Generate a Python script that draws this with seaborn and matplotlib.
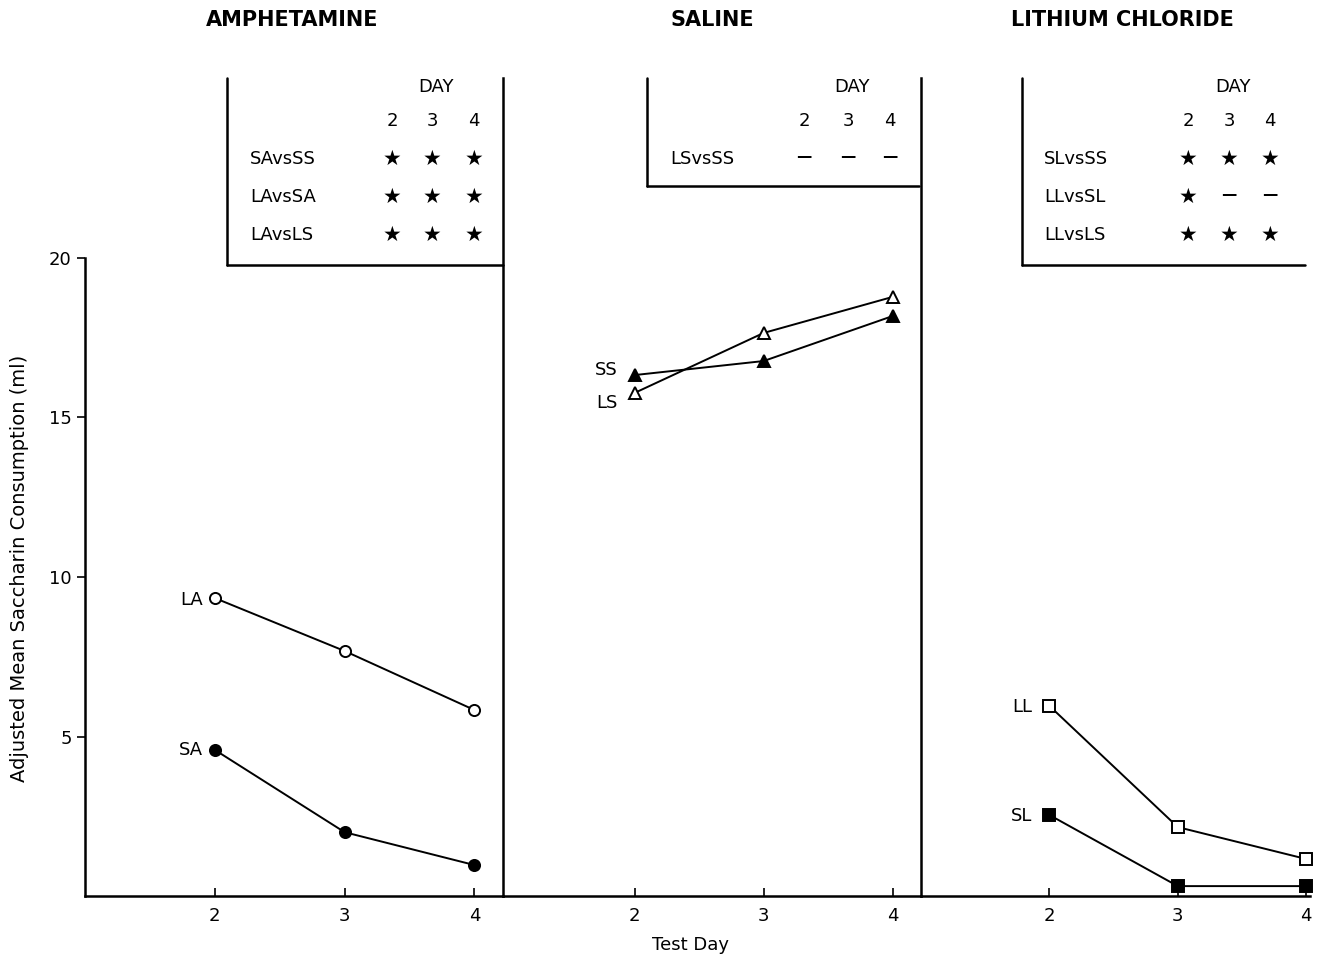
import matplotlib
matplotlib.use("Agg")
import matplotlib.pyplot as plt
import seaborn as sns
import pandas as pd

# ---------------- data ----------------
days = [2, 3, 4]
panels = ["AMPHETAMINE", "SALINE", "LITHIUM CHLORIDE"]

LA = [9.34, 7.68, 5.83]
SA = [4.58, 2.00, 0.97]
SS = [16.33, 16.77, 18.18]
LS = [15.77, 17.65, 18.78]
LL = [5.96, 2.16, 1.16]
SL = [2.54, 0.31, 0.31]

series_names = [["LA", "SA"], ["SS", "LS"], ["LL", "SL"]]
series_vals = {"LA": LA, "SA": SA, "SS": SS, "LS": LS, "LL": LL, "SL": SL}
series_marker = {"LA": "o", "SA": "o", "SS": "^", "LS": "^", "LL": "s", "SL": "s"}
series_filled = {"LA": False, "SA": True, "SS": True, "LS": False, "LL": False, "SL": True}

yticks = [5, 10, 15, 20]
ylabel = "Adjusted Mean Saccharin Consumption (ml)"
xlabel = "Test Day"

# significance tables
table_rows = [
    ["SAvsSS", "LAvsSA", "LAvsLS"],
    ["LSvsSS"],
    ["SLvsSS", "LLvsSL", "LLvsLS"],
]
table_marks = [
    [["★", "★", "★"], ["★", "★", "★"], ["★", "★", "★"]],
    [["—", "—", "—"]],
    [["★", "★", "★"], ["★", "—", "—"], ["★", "★", "★"]],
]

rows = []
for p, names in enumerate(series_names):
    for n in names:
        for d, v in zip(days, series_vals[n]):
            rows.append({"panel": p, "group": n, "day": d, "value": v})
df = pd.DataFrame(rows)

# ---------------- layout ----------------
sns.set_theme(style="white")
plt.rcParams["font.family"] = ["DejaVu Sans"]
plt.rcParams["text.color"] = "black"
plt.rcParams["axes.labelcolor"] = "black"
plt.rcParams["xtick.color"] = "black"
plt.rcParams["ytick.color"] = "black"

W, H = 1318, 959
fig = plt.figure(figsize=(W / 100, H / 100), dpi=100)
gs = fig.add_gridspec(1, 3, left=85 / W, right=1310 / W, bottom=1 - 896 / H, top=1 - 78 / H,
                      wspace=0, width_ratios=[418, 418, 389])
axes = [fig.add_subplot(gs[0, i]) for i in range(3)]
xlims = [(1.0, 4.22), (0.98, 4.22), (1.0, 4.03)]
YMAX = (896 - 78) / 31.9

def fx(x):
    return x / W

def fy(y):
    return 1 - y / H

for p, ax in enumerate(axes):
    ax.patch.set_visible(False)
    sub = df[df.panel == p]
    for n in series_names[p]:
        d = sub[sub.group == n]
        sns.lineplot(data=d, x="day", y="value", ax=ax, color="black", lw=1.4,
                     marker=series_marker[n], markersize=8 if series_marker[n] != "^" else 9,
                     markerfacecolor="black" if series_filled[n] else "white",
                     markeredgecolor="black", markeredgewidth=1.4, zorder=3, clip_on=False)
    ax.set_xlim(*xlims[p])
    ax.set_ylim(0, YMAX)
    ax.set_xticks(days)
    ax.set_xticklabels([str(d) for d in days], fontsize=13)
    ax.set_xlabel("")
    ax.set_ylabel("")
    ax.tick_params(axis="x", direction="in", length=6, width=1.2, color="black", pad=8, bottom=True)
    for s in ax.spines.values():
        s.set_color("black")
        s.set_linewidth(1.8)
    ax.spines["top"].set_visible(False)
    if p == 0:
        ax.set_yticks(yticks)
        ax.set_yticklabels([str(t) for t in yticks], fontsize=13)
        ax.tick_params(axis="y", direction="out", length=6, width=1.2, color="black", left=True)
        ax.spines["left"].set_bounds(0, 20)
    else:
        ax.spines["left"].set_visible(False)
        ax.set_yticks([])
    if p == 2:
        ax.spines["right"].set_visible(False)

# series labels
label_pos = {"LA": (203, 600), "SA": (203, 750), "SS": (618, 370), "LS": (618, 403),
             "LL": (1032, 707), "SL": (1032, 816)}
for n, (x, y) in label_pos.items():
    fig.text(fx(x), fy(y), n, ha="right", va="center", fontsize=13)

# panel titles
for t, x in zip(panels, [292, 712, 1122]):
    fig.text(fx(x), fy(20), t, ha="center", va="center", fontsize=15, fontweight="bold")

# tables
box = [(0.340, 0.771, 1.0), (0.344, 0.868, 0.995), (0.26, 0.771, 0.987)]
for ax, (x0, y0, x1) in zip(axes, box):
    ax.plot([x0, x0], [y0, 1.0], color="black", lw=1.8, transform=ax.transAxes, clip_on=False)
    ax.plot([x0, x1], [y0, y0], color="black", lw=1.8, transform=ax.transAxes, clip_on=False)

col_x = [[392, 432, 474], [804, 848, 890], [1188, 1229, 1270]]
row_left = [250, 670, 1044]
for p in range(3):
    cx = col_x[p]
    fig.text(fx(cx[1] + 4), fy(87), "DAY", ha="center", va="center", fontsize=13)
    for x, d in zip(cx, days):
        fig.text(fx(x), fy(121), str(d), ha="center", va="center", fontsize=13)
    for r, (lab, marks) in enumerate(zip(table_rows[p], table_marks[p])):
        y = 159 + 38 * r
        fig.text(fx(row_left[p]), fy(y), lab, ha="left", va="center", fontsize=13)
        for x, m in zip(cx, marks):
            fig.text(fx(x), fy(y - (2 if m != "★" else 0)), m, ha="center", va="center",
                     fontsize=15 if m == "★" else 11, fontweight="bold" if m != "★" else "normal")

fig.text(fx(690), fy(945), xlabel, ha="center", va="center", fontsize=13)
fig.text(fx(20), fy(568), ylabel, ha="center", va="center", rotation=90, fontsize=14)

fig.savefig("out.png", dpi=100, facecolor="white")
